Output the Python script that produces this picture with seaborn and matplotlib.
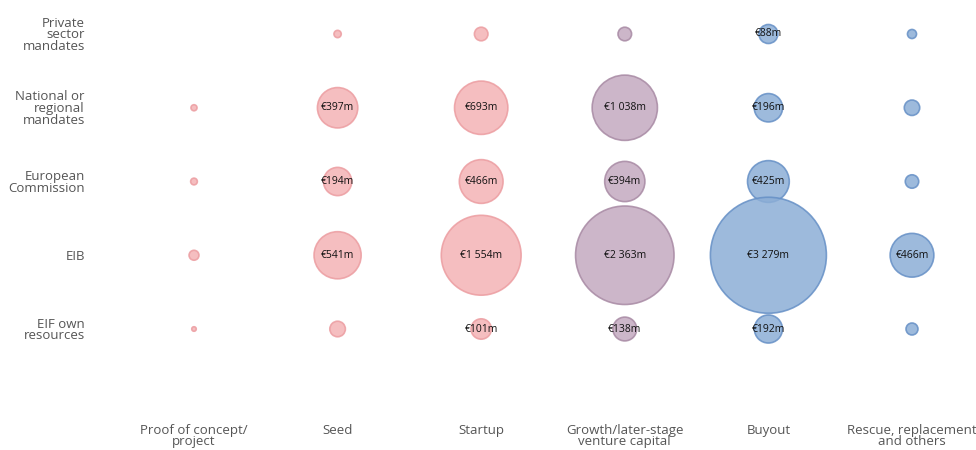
import numpy as np
import pandas as pd
import matplotlib
matplotlib.use("Agg")
import matplotlib.pyplot as plt
import seaborn as sns

stages = ["Proof of concept/\nproject", "Seed", "Startup",
          "Growth/later-stage\nventure capital", "Buyout",
          "Rescue, replacement\nand others"]
sources = ["Private\nsector\nmandates", "National or\nregional\nmandates",
           "European\nCommission", "EIB", "EIF own\nresources"]

# EUR m, rows = sources, cols = stages (unlabelled ones)
private_sector = [0, 13, 45, 45, 88, 20]
national = [9, 397, 693, 1038, 196, 58]
commission = [11, 194, 466, 394, 425, 44]
eib = [24, 541, 1554, 2363, 3279, 466]
eif_own = [5, 59, 101, 138, 192, 35]

stage_colors = ["#f4b3b5", "#f4b3b5", "#f4b3b5", "#c3aac0", "#8caed6", "#8caed6"]
edge_colors = ["#ec9da1", "#ec9da1", "#ec9da1", "#a88aa4", "#6690c6", "#6690c6"]
label_min = 80

rows = []
for si, vals in enumerate([private_sector, national, commission, eib, eif_own]):
    for ci, v in enumerate(vals):
        rows.append({"stage": ci, "source": si, "value": v})
df = pd.DataFrame(rows)

sns.set_style("white")
plt.rcParams["font.family"] = ["Open Sans", "DejaVu Sans"]

fig = plt.figure(figsize=(9.76, 4.5), dpi=100)
W, H = 976, 450
left_px, right_px, top_px, bottom_px = 96, 976, 0, 420
ax = fig.add_axes([left_px / W, 1 - bottom_px / H,
                   (right_px - left_px) / W, (bottom_px - top_px) / H])

# pixel layout: columns at 194..912, rows at 34..329
xs = 143.6
x0 = 194
ys = 73.75
y0 = 34
ax.set_xlim(-(x0 - left_px) / xs, 5 + (right_px - 912) / xs)
ax.set_ylim((bottom_px - y0) / ys, -(y0 - top_px) / ys)

smax = (116 * 0.72) ** 2
palette = dict(enumerate(stage_colors))
sns.scatterplot(data=df, x="stage", y="source", size="value", hue="stage",
                palette=palette, sizes=(0, smax), size_norm=(0, 3279),
                alpha=0.85, linewidth=1.2, legend=False, ax=ax,
                edgecolor=[edge_colors[i] for i in df["stage"]])

for _, r in df.iterrows():
    if r["value"] >= label_min:
        txt = f"€{int(r['value']):,}m".replace(",", " ")
        ax.text(r["stage"], r["source"], txt, ha="center", va="center",
                fontsize=7.5, color="#111111")

ax.set_xticks(range(len(stages)))
ax.set_xticklabels(stages, fontsize=9.5, color="#555555", linespacing=0.8)
ax.set_yticks(range(len(sources)))
ax.set_yticklabels(sources, fontsize=9.5, color="#555555", linespacing=0.85,
                   ha="right")
ax.tick_params(axis="x", length=0, pad=3)
ax.tick_params(axis="y", length=0, pad=8)
ax.set_xlabel("")
ax.set_ylabel("")
sns.despine(ax=ax, left=True, bottom=True)

fig.savefig("out.png", dpi=100)
